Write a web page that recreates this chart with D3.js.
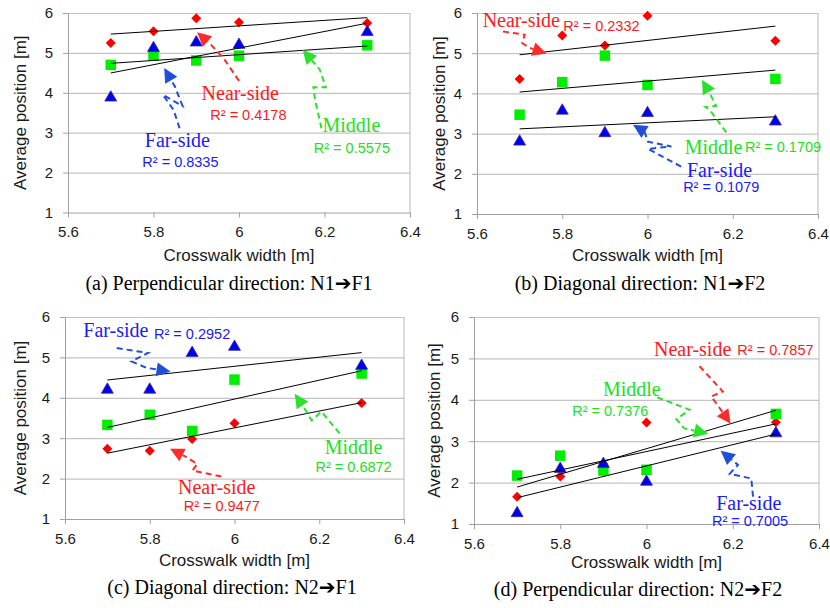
<!DOCTYPE html>
<html>
<head>
<meta charset="utf-8">
<script src="https://cdn.jsdelivr.net/npm/d3@7.9.0/dist/d3.min.js"></script>
<style>
  body { margin: 0; background: #fff; }
  svg text { font-family: "Liberation Sans", Arial, sans-serif; }
  .serif { font-family: "Liberation Serif", "Times New Roman", serif; }
</style>
</head>
<body>
<svg id="chart" width="830" height="608"></svg>
<script>
// crosswalk widths shared by all four panels
const widths = [5.7, 5.8, 5.9, 6.0, 6.3];

// (a) N1 -> F1
const nearA = [5.25, 5.54, 5.87, 5.77, 5.75];
const middleA = [4.70, 4.93, 4.81, 4.93, 5.19];
const farA = [3.88, 5.12, 5.26, 5.20, 5.52];
// (b) N1 -> F2
const nearB = [4.36, 5.44, 5.19, 5.93, 5.31];
const middleB = [3.47, 4.28, 4.94, 4.21, 4.36];
const farB = [2.80, 3.57, 3.01, 3.51, 3.30];
// (c) N2 -> F1
const nearC = [2.74, 2.69, 2.98, 3.37, 3.87];
const middleC = [3.33, 3.58, 3.18, 4.45, 4.60];
const farC = [4.20, 4.20, 5.11, 5.26, 4.79];
// (d) N2 -> F2
const nearD = [1.66, 2.15, 2.45, 3.45, 3.46];
const middleD = [2.17, 2.65, 2.29, 2.31, 3.66];
const farD = [1.26, 2.33, 2.45, 2.02, 3.19];

// R² labels, order: near, middle, far
const r2A = ['0.4178', '0.5575', '0.8335'];
const r2B = ['0.2332', '0.1709', '0.1079'];
const r2C = ['0.9477', '0.6872', '0.2952'];
const r2D = ['0.7857', '0.7376', '0.7005'];

const seriesNames = ['Near-side', 'Middle', 'Far-side'];
const captions = [
  '(a) Perpendicular direction: N1',
  '(b) Diagonal direction: N1',
  '(c) Diagonal direction: N2',
  '(d) Perpendicular direction: N2'
];
const captionEnds = ['F1', 'F2', 'F1', 'F2'];

const xTicks = [5.6, 5.8, 6, 6.2, 6.4];
const yTicks = [1, 2, 3, 4, 5, 6];

const colors = { near: '#ff0000', middle: '#00ee00', far: '#0000ee' };
const textColors = { near: '#ff1a1a', middle: '#22e022', far: '#1a1aff' };
const arrowColors = { near: '#ff2a2a', middle: '#2ee02e', far: '#1f4fd8' };

// annotation layout in data units: name label, R² label, arrow points (last = tip)
const panels = [
  {
    data: { near: nearA, middle: middleA, far: farA }, r2: r2A,
    box: { l: 68, r: 410, t: 13, b: 212.5 }, titleY: 261, yTitleX: 26, capX: 229, capY: 290,
    notes: {
      near: { name: [6.003, 3.82], r2: [6.022, 3.32],
              arrow: [[6.0, 4.30], [5.965, 4.85], [5.935, 5.2], [5.902, 5.52]] },
      middle: { name: [6.263, 3.03], r2: [6.264, 2.50],
              arrow: [[6.193, 3.11], [6.178, 3.82], [6.174, 4.14], [6.203, 4.14], [6.189, 4.58], [6.149, 5.08]] },
      far: { name: [5.856, 2.65], r2: [5.863, 2.15],
              arrow: [[5.861, 3.11], [5.847, 3.57], [5.822, 3.95], [5.868, 3.67], [5.850, 4.16], [5.825, 4.62]] }
    }
  },
  {
    data: { near: nearB, middle: middleB, far: farB }, r2: r2B,
    box: { l: 477, r: 818, t: 13, b: 214 }, titleY: 261, yTitleX: 445, capX: 640, capY: 290,
    notes: {
      near: { name: [5.704, 5.66], r2: [5.892, 5.54],
              arrow: [[5.661, 5.54], [5.712, 5.46], [5.706, 5.25], [5.724, 5.13], [5.763, 4.99]] },
      middle: { name: [6.155, 2.49], r2: [6.318, 2.55],
              arrow: [[6.185, 3.03], [6.146, 3.59], [6.136, 3.66], [6.161, 3.69], [6.15, 3.92], [6.128, 4.34]] },
      far: { name: [6.169, 1.93], r2: [6.173, 1.54],
              arrow: [[6.079, 2.18], [6.001, 2.62], [6.056, 2.68], [6.001, 2.80], [5.993, 3.05], [5.966, 3.22]] }
    }
  },
  {
    data: { near: nearC, middle: middleC, far: farC }, r2: r2C,
    box: { l: 65, r: 404, t: 317, b: 519 }, titleY: 566, yTitleX: 26, capX: 232, capY: 594,
    notes: {
      near: { name: [5.958, 1.62], r2: [5.970, 1.21],
              arrow: [[5.969, 2.05], [5.901, 2.20], [5.912, 2.36], [5.887, 2.53], [5.848, 2.74]] },
      middle: { name: [6.281, 2.61], r2: [6.281, 2.17],
              arrow: [[6.248, 3.12], [6.205, 3.66], [6.182, 3.44], [6.162, 3.79], [6.142, 4.10]] },
      far: { name: [5.72, 5.50], r2: [5.900, 5.46],
              arrow: [[5.722, 5.23], [5.796, 5.11], [5.757, 4.90], [5.793, 4.74], [5.849, 4.65]] }
    }
  },
  {
    data: { near: nearD, middle: middleD, far: farD }, r2: r2D,
    box: { l: 474, r: 819, t: 317, b: 524 }, titleY: 568, yTitleX: 440, capX: 638, capY: 596,
    notes: {
      near: { name: [6.107, 5.06], r2: [6.299, 5.09],
              arrow: [[6.123, 4.81], [6.177, 4.20], [6.150, 4.08], [6.167, 3.84], [6.195, 3.42]] },
      middle: { name: [5.966, 4.08], r2: [5.916, 3.60],
              arrow: [[6.025, 4.06], [6.100, 3.76], [6.069, 3.53], [6.088, 3.31], [6.143, 3.18]] },
      far: { name: [6.237, 1.35], r2: [6.240, 0.95],
              arrow: [[6.247, 1.66], [6.243, 2.10], [6.193, 2.21], [6.212, 2.43], [6.172, 2.77]] }
    }
  }
];

const svg = d3.select('#chart');
const keys = ['near', 'middle', 'far'];
const fmt = d3.format('~g');

// least squares fit
function fit(xs, ys) {
  const mx = d3.mean(xs), my = d3.mean(ys);
  let sxy = 0, sxx = 0;
  xs.forEach((x, i) => { sxy += (x - mx) * (ys[i] - my); sxx += (x - mx) ** 2; });
  const slope = sxy / sxx;
  return x => my + slope * (x - mx);
}

panels.forEach((p, pi) => {
  const g = svg.append('g');
  const x = d3.scaleLinear().domain([5.6, 6.4]).range([p.box.l, p.box.r]);
  const y = d3.scaleLinear().domain([1, 6]).range([p.box.b, p.box.t]);

  // grid lines
  g.append('g')
    .attr('transform', `translate(${p.box.l},0)`)
    .call(d3.axisLeft(y).tickValues(yTicks.slice(1)).tickSize(-(p.box.r - p.box.l)).tickFormat(''))
    .call(a => a.select('.domain').remove())
    .call(a => a.selectAll('line').attr('stroke', '#c4c4c4').attr('stroke-width', 1.2));

  // right border
  g.append('line')
    .attr('x1', p.box.r).attr('x2', p.box.r).attr('y1', p.box.t).attr('y2', p.box.b)
    .attr('stroke', '#b8b8b8');

  const yAxis = g.append('g')
    .attr('transform', `translate(${p.box.l},0)`)
    .call(d3.axisLeft(y).tickValues(yTicks).tickFormat(fmt).tickSize(5).tickPadding(10).tickSizeOuter(0));
  const xAxis = g.append('g')
    .attr('transform', `translate(0,${p.box.b})`)
    .call(d3.axisBottom(x).tickValues(xTicks).tickFormat(fmt).tickSize(5).tickPadding(9).tickSizeOuter(0));
  [yAxis, xAxis].forEach(a => {
    a.select('.domain').attr('stroke', '#a0a0a0');
    a.selectAll('.tick line').attr('stroke', '#a0a0a0');
    a.selectAll('.tick text').attr('font-size', 15).attr('fill', '#1a1a1a')
      .attr('font-family', '"Liberation Sans", Arial, sans-serif');
  });

  // axis titles
  g.append('text')
    .attr('x', (p.box.l + p.box.r) / 2).attr('y', p.titleY)
    .attr('text-anchor', 'middle').attr('font-size', 17).attr('fill', '#1a1a1a')
    .text('Crosswalk width [m]');
  g.append('text')
    .attr('transform', `translate(${p.yTitleX},${(p.box.t + p.box.b) / 2}) rotate(-90)`)
    .attr('text-anchor', 'middle').attr('font-size', 17).attr('fill', '#1a1a1a')
    .text('Average position [m]');

  // markers
  keys.forEach(k => {
    const vals = p.data[k];
    const sym = k === 'near' ? d3.symbol(d3.symbolSquare, 50)
      : k === 'middle' ? d3.symbol(d3.symbolSquare, 110)
      : d3.symbol(d3.symbolTriangle, 62);
    g.append('g').selectAll('path')
      .data(vals)
      .join('path')
      .attr('d', sym)
      .attr('transform', (d, i) => `translate(${x(widths[i])},${y(d)})` + (k === 'near' ? ' rotate(45)' : ''))
      .attr('fill', colors[k])
      .attr('stroke', k === 'far' ? '#3a2a9a' : 'none')
      .attr('stroke-width', 0.8);
  });

  // linear trend lines
  keys.forEach(k => {
    const f = fit(widths, p.data[k]);
    const x0 = d3.min(widths), x1 = d3.max(widths);
    g.append('line')
      .attr('x1', x(x0)).attr('y1', y(f(x0)))
      .attr('x2', x(x1)).attr('y2', y(f(x1)))
      .attr('stroke', '#000').attr('stroke-width', 1);
  });

  // annotations
  keys.forEach((k, ki) => {
    const n = p.notes[k];
    const pts = n.arrow.map(([a, b]) => [x(a), y(b)]);
    const tip = pts[pts.length - 1];
    const prev = pts[pts.length - 2];
    const ang = Math.atan2(tip[1] - prev[1], tip[0] - prev[0]);
    const len = 14, half = 7;
    const base = [tip[0] - len * Math.cos(ang), tip[1] - len * Math.sin(ang)];
    const linePts = pts.slice(0, -1).concat([base]);
    g.append('path')
      .attr('d', d3.line()(linePts))
      .attr('fill', 'none')
      .attr('stroke', arrowColors[k])
      .attr('stroke-width', 2)
      .attr('stroke-dasharray', '6,4');
    const px = -Math.sin(ang), py = Math.cos(ang);
    g.append('path')
      .attr('d', d3.line()([
        tip,
        [base[0] + half * px, base[1] + half * py],
        [base[0] - half * px, base[1] - half * py]
      ]) + 'Z')
      .attr('fill', arrowColors[k]);

    g.append('text')
      .attr('class', 'serif')
      .attr('x', x(n.name[0])).attr('y', y(n.name[1]))
      .attr('text-anchor', 'middle').attr('font-size', 20)
      .attr('fill', textColors[k])
      .text(seriesNames[ki]);
    g.append('text')
      .attr('x', x(n.r2[0])).attr('y', y(n.r2[1]))
      .attr('text-anchor', 'middle').attr('font-size', 14.5)
      .attr('fill', textColors[k])
      .text('R² = ' + p.r2[ki]);
  });

  // caption
  const cap = g.append('text')
    .attr('class', 'serif')
    .attr('x', p.capX).attr('y', p.capY)
    .attr('text-anchor', 'middle').attr('font-size', 20).attr('fill', '#000');
  cap.append('tspan').text(captions[pi]);
  cap.append('tspan').attr('font-family', '"DejaVu Sans", sans-serif').attr('font-size', 20).text('➔');
  cap.append('tspan').text(captionEnds[pi]);
});
</script>
</body>
</html>
